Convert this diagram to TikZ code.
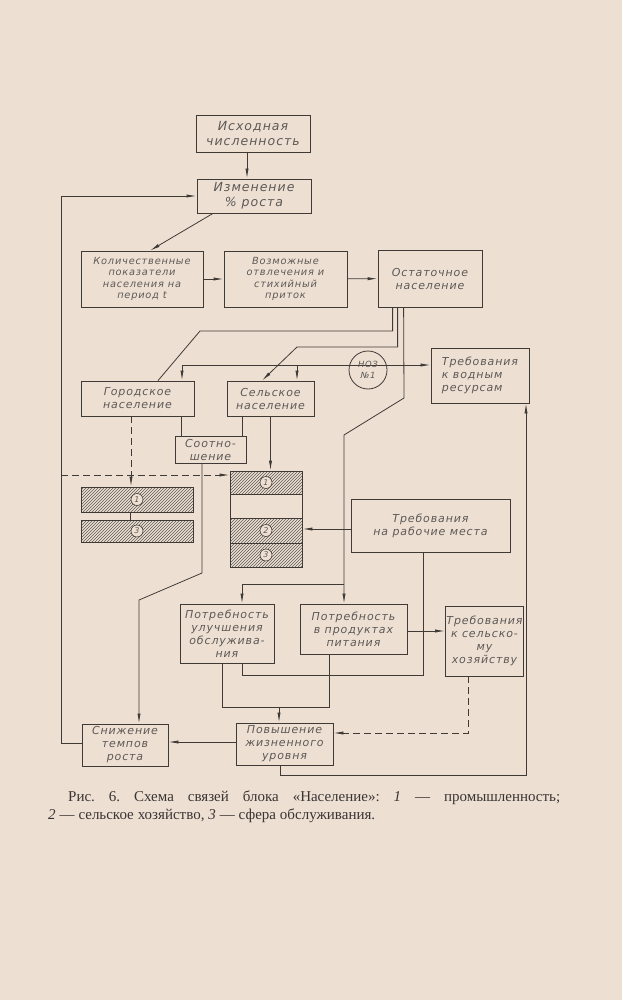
\documentclass[tikz,border=0pt]{standalone}
\usepackage{fontspec}
\setmainfont{Liberation Serif}
\newfontfamily\stencil[LetterSpace=8]{DejaVu Sans}
\usetikzlibrary{calc,arrows.meta,patterns}
\definecolor{paper}{HTML}{EDE0D3}
\definecolor{ink}{HTML}{403A37}
\definecolor{txt}{HTML}{5E5956}
\definecolor{captxt}{HTML}{3A3433}
\tikzset{
  blk/.style 2 args={draw=ink,line width=.8pt,text=txt,align=center,inner sep=1pt,minimum width=#1,minimum height=#2,font=\stencil\itshape\fontsize{11}{13}\selectfont},
  big/.style={font=\stencil\itshape\fontsize{12.5}{15}\selectfont},
  small/.style={font=\stencil\itshape\fontsize{9.8}{11.5}\selectfont},
  hatch/.style 2 args={draw=ink,line width=.8pt,pattern=north east lines,pattern color=ink!85,minimum width=#1,minimum height=#2,inner sep=0pt},
  num/.style={circle,draw=ink,fill=paper,line width=.6pt,inner sep=0pt,minimum size=12pt,text=txt,font=\stencil\itshape\fontsize{8}{8}\selectfont},
  ln/.style={ink,line width=.8pt},
  arr/.style={-{Latex[length=10pt,width=3.2pt]},ink,line width=.8pt},
  dsh/.style={dash pattern=on 7pt off 4pt},
  captn/.style={anchor=base west,inner sep=0pt,text=captxt,font=\fontsize{15}{18}\selectfont\frenchspacing},
}
\begin{document}
\begin{tikzpicture}[x=1pt,y=-1pt]
\fill[paper] (0,0) rectangle (622,1000);
% upper chain
\node[blk={114pt}{37pt},big] (isx) at (253,133.5) {Исходная\\численность};
\node[blk={114pt}{34pt},big] (izm) at (254,196) {Изменение\\\% роста};
\node[blk={122pt}{56pt},small] (kol) at (142,279) {Количественные\\показатели\\населения на\\период \textit{t}};
\node[blk={123pt}{56pt},small] (vozm) at (285.5,279) {Возможные\\отвлечения и\\стихийный\\приток};
\node[blk={104pt}{57pt}] (ost) at (430,278.5) {Остаточное\\население};
% population
\node[blk={113pt}{35pt}] (gor) at (137.5,398.5) {Городское\\население};
\node[blk={87pt}{35pt}] (sel) at (270.5,398.5) {Сельское\\население};
\node[blk={71pt}{27pt}] (sootn) at (210.5,449.5) {Соотно-\\шение};
\node[blk={98pt}{55pt},align=left] (voda) at (480,375.5) {Требования\\к водным\\ресурсам};
% branches
\node[hatch={112pt}{25pt}] (L1) at (137,499.5) {};
\node[hatch={112pt}{22pt}] (L3) at (137,531) {};
\node[hatch={72pt}{23pt}] (R1) at (266,482.5) {};
\node[draw=ink,line width=.8pt,minimum width=72pt,minimum height=24pt,inner sep=0pt] (R0) at (266,506) {};
\node[hatch={72pt}{25pt}] (R2) at (266,530.5) {};
\node[hatch={72pt}{24pt}] (R3) at (266,555) {};
\node[num] (nL1) at (L1) {1};
\node[num] (nL3) at (L3) {3};
\node[num] (nR1) at (R1) {1};
\node[num] (nR2) at (R2) {2};
\node[num] (nR3) at (R3) {3};
\node[blk={159pt}{53pt}] (rab) at (430.5,525.5) {Требования\\на рабочие места};
% needs
\node[blk={94pt}{59pt}] (potU) at (227,633.5) {Потребность\\улучшения\\обслужива-\\ния};
\node[blk={107pt}{50pt}] (potP) at (353.5,629) {Потребность\\в продуктах\\питания};
\node[blk={75pt}{70pt}] (trebS) at (484.5,641) {Требования\\к сельско-\\му\\хозяйству};
\node[blk={86pt}{42pt}] (snizh) at (125,745) {Снижение\\темпов\\роста};
\node[blk={97pt}{42pt}] (pov) at (284.5,744) {Повышение\\жизненного\\уровня};
% bends
\coordinate (fb) at (61,743);
\coordinate (dl) at (61,475);
\coordinate (wl) at (182,365);
\coordinate (br) at (344,584);
\coordinate (jn) at (279,707);
\coordinate (rb) at (423,675);
\coordinate (bt) at (526,775);
% connectors
\draw[arr] ([xshift=-6pt]isx.south) -- ([xshift=-6pt]isx.south |- izm.north);
\draw[arr] ([xshift=-41pt]izm.south) -- ([xshift=8pt]kol.north);
\draw[arr] (kol) -- (vozm);
\draw[arr] (vozm) -- (ost);
\draw[arr] ([yshift=2pt]snizh.west) -- (fb) |- (izm.west);
\draw[ln] ([xshift=15pt]ost.south west) |- (200,331) -- ([xshift=20.5pt]gor.north);
\draw[arr] ([xshift=20pt]ost.south west) |- (297,347) -- ([xshift=-8.5pt]sel.north);
\draw[arr] ([xshift=26pt]ost.south west) -- (404,398) -- (344,435) -- ([xshift=-9.5pt]potP.north);
\draw[arr] (br) -| ([xshift=15pt]potU.north);
\draw[arr] (wl) -- (wl -| voda.west);
\draw[arr] (wl) -- (wl |- gor.north);
\draw[arr] ([xshift=26.5pt]sel.north |- wl) -- ([xshift=26.5pt]sel.north);
\node[circle,draw=ink,line width=.8pt,minimum size=38pt,inner sep=0pt,align=center,text=txt,font=\stencil\itshape\fontsize{8.5}{10}\selectfont] (noz) at (368,370) {НОЗ\\[1pt]№1};
\draw[arr,dsh] ([xshift=-6.5pt]gor.south) -- ([xshift=-6.5pt]gor.south |- L1.north);
\draw[ln] ([xshift=-29.5pt]sootn.north) -- ([xshift=-29.5pt]sootn.north |- gor.south);
\draw[ln] ([xshift=31.5pt]sootn.north) -- ([xshift=31.5pt]sootn.north |- sel.south);
\draw[arr] (sel.south) -- (sel.south |- R1.north);
\draw[arr,dsh] (dl) -- (dl -| R1.west);
\draw[ln] ([xshift=-7pt]L1.south) -- ([xshift=-7pt]L3.north);
\draw[arr] ([xshift=-8.5pt]sootn.south) -- (202,573) -- (139,600) -- ([xshift=14pt]snizh.north);
\draw[arr] ([yshift=-3.5pt]rab.west) -- ([yshift=-3.5pt]rab.west -| R2.east);
\draw[ln] ([xshift=15pt]potU.south) |- (rb) -- (rb |- rab.south);
\draw[ln] ([xshift=-5pt]potU.south) |- (jn);
\draw[ln] ([xshift=-24.5pt]potP.south) |- (jn);
\draw[arr] (jn) -- (jn |- pov.north);
\draw[arr] ([yshift=-2pt]potP.east) -- ([yshift=-2pt]potP.east -| trebS.west);
\draw[arr,dsh] ([xshift=-16.5pt]trebS.south) |- ([yshift=11pt]pov.east);
\draw[arr] ([yshift=2pt]pov.west) -- ([yshift=2pt]pov.west -| snizh.east);
\draw[arr] ([xshift=-4.5pt]pov.south) |- (bt) -- (bt |- voda.south);
% caption
\node[captn] (cap1) at (68,801)
  {\makebox[492pt][s]{Рис. 6. Схема связей блока «Население»: \textit{1} — промышленность;}};
\node[captn] (cap2) at (48,819)
  {\makebox[327pt][s]{\textit{2} — сельское хозяйство, \textit{3} — сфера обслуживания.}};
\end{tikzpicture}
\end{document}
